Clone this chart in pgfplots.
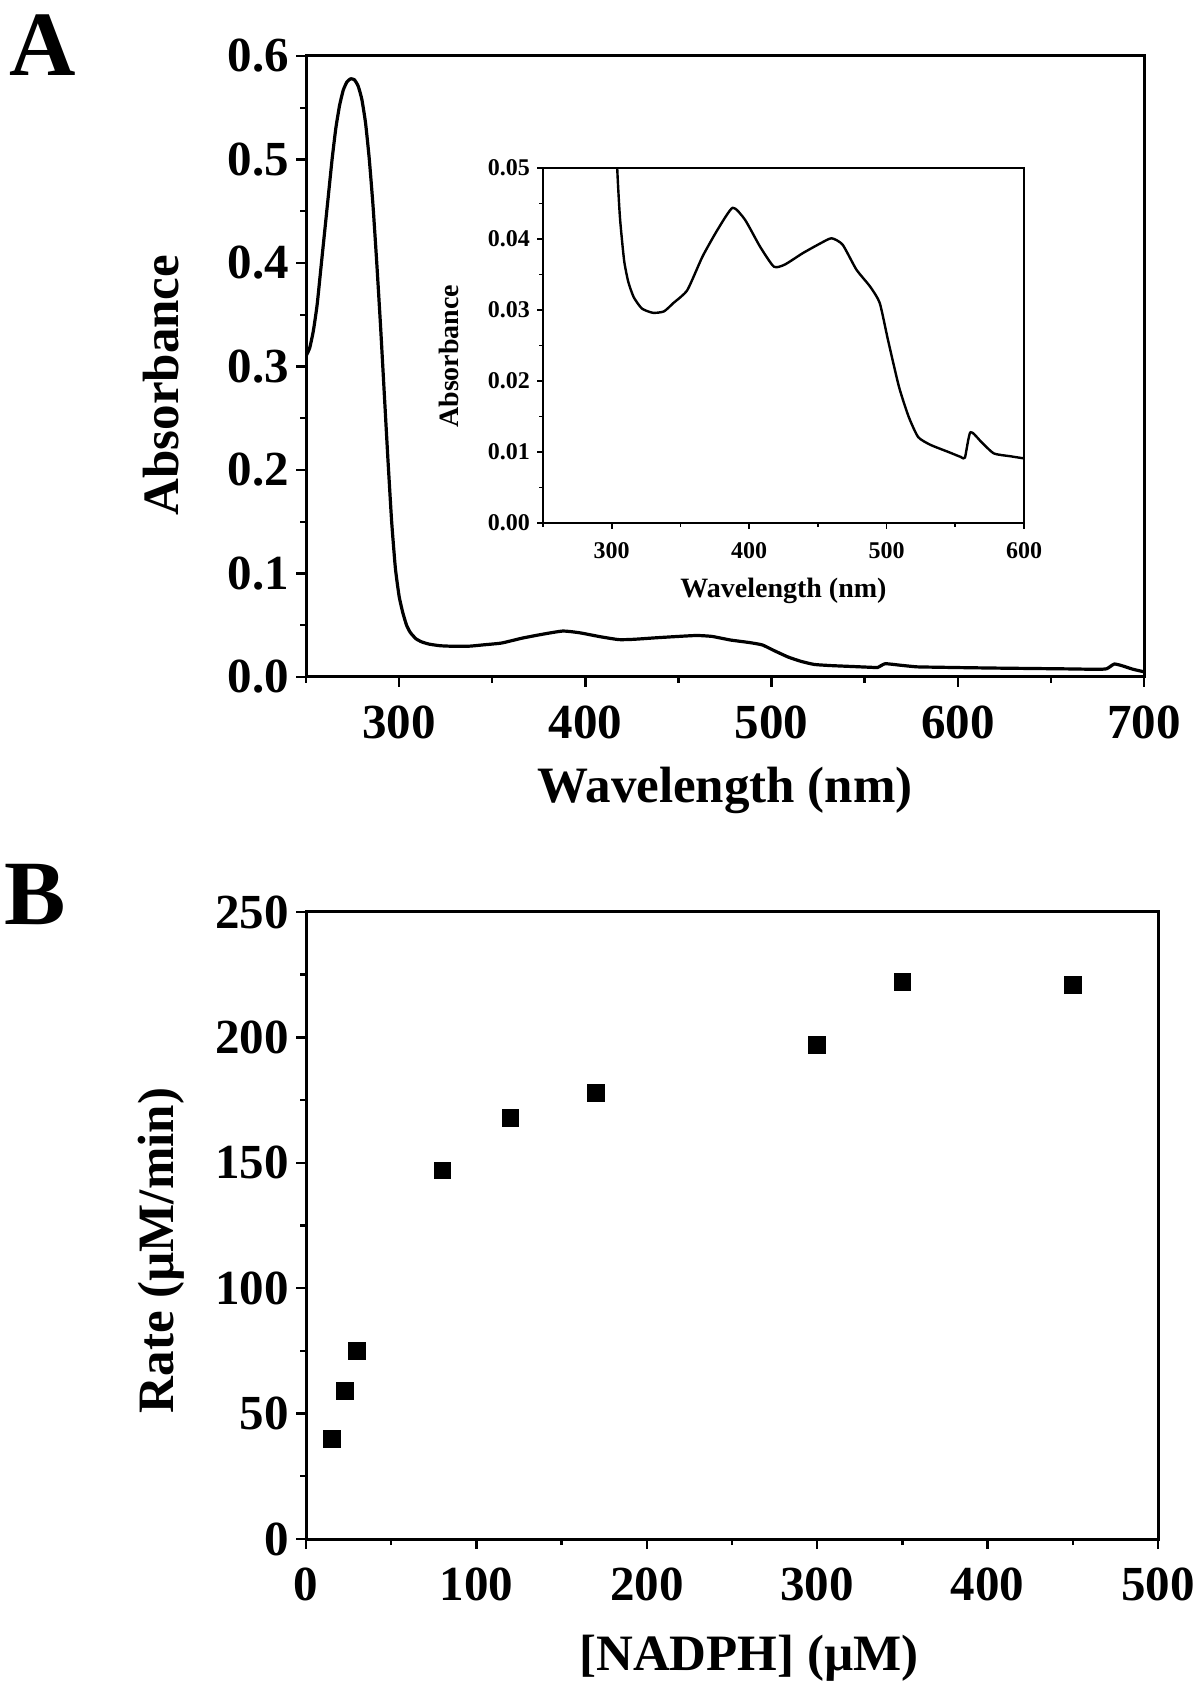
\documentclass[border=0pt]{standalone}
\usepackage{fontspec}
\setmainfont{Liberation Serif}
\usepackage{pgfplots}
\pgfplotsset{compat=1.18}
\usepackage{pgfplotstable}

\pgfplotstableread{
wl abs
250 0.310
252 0.318
254 0.335
256 0.360
258 0.395
260 0.430
262 0.465
264 0.500
266 0.530
268 0.552
270 0.567
272 0.575
274 0.578
276 0.577
278 0.571
280 0.558
282 0.535
284 0.500
286 0.455
288 0.400
290 0.340
292 0.275
294 0.210
296 0.150
298 0.105
300 0.078
302 0.062
304 0.050
306 0.043
309 0.037
312 0.0340
316 0.0318
322 0.0302
330 0.0296
338 0.0298
345 0.0310
355 0.0328
366 0.0375
377 0.0413
388 0.0444
397 0.0427
408 0.0389
418 0.0361
426 0.0364
439 0.0380
452 0.0394
460 0.0401
468 0.0392
478 0.0357
488 0.0333
495 0.0310
501 0.0258
509 0.0192
516 0.0150
523 0.0121
532 0.0110
545 0.0100
554 0.0093
557 0.0092
561 0.0128
569 0.0114
578 0.0098
590 0.0094
600 0.0091
620 0.0086
640 0.0082
660 0.0078
675 0.0074
680 0.0080
684 0.0125
688 0.0110
694 0.0075
700 0.0050
}\spectrum

\pgfplotstableread{
c rate
15 40
23 59
30 75
80 147
120 168
170 178
300 197
350 222
450 221
}\kinetics

\begin{document}
\begin{tikzpicture}
\useasboundingbox (0,0) rectangle (600pt,842.5pt);
\pgfplotsset{
  mystyle/.style={
    scale only axis,
    axis line style={line width=1.5pt},
    tick align=outside,
    tick pos=left,
    major tick length=5pt,
    minor tick length=3pt,
    every tick/.style={black, line width=1.2pt},
    /pgf/number format/assume math mode=true,
    ticklabel style={font=\fontsize{24.5}{24.5}\selectfont\bfseries},
    xticklabel style={yshift=-6pt},
    label style={font=\fontsize{25.5}{25.5}\selectfont\bfseries},
    scaled ticks=false,
  }
}
% Panel A main
\begin{axis}[mystyle,
  at={(153pt,504pt)}, anchor=south west,
  width=419pt, height=310.5pt,
  xmin=250, xmax=700, ymin=0, ymax=0.6,
  xtick={300,400,500,600,700},
  minor xtick={250,350,450,550,650},
  ytick={0,0.1,0.2,0.3,0.4,0.5,0.6},
  minor ytick={0.05,0.15,0.25,0.35,0.45,0.55},
  yticklabel style={/pgf/number format/.cd, fixed, fixed zerofill, precision=1},
  xlabel={Wavelength (nm)}, ylabel={Absorbance},
  x label style={at={(axis description cs:0.5,-0.182)}, anchor=center},
  y label style={at={(axis description cs:-0.173,0.47)}, anchor=center},
]
\addplot[black, line width=1.6pt, line join=round, smooth, tension=0.3] table[x=wl,y=abs] {\spectrum};
\end{axis}
% Inset
\begin{axis}[mystyle,
  at={(271.5pt,581pt)}, anchor=south west,
  width=240.5pt, height=177.5pt,
  axis background/.style={fill=white},
  axis line style={line width=1pt},
  every tick/.style={black, line width=0.8pt},
  major tick length=3pt, minor tick length=2pt,
  ticklabel style={font=\fontsize{12}{12}\selectfont\bfseries},
  xticklabel style={yshift=3pt},
  label style={font=\fontsize{14}{14}\selectfont\bfseries},
  xmin=250, xmax=600, ymin=0, ymax=0.05,
  xtick={300,400,500,600},
  minor xtick={250,350,450,550},
  ytick={0,0.01,0.02,0.03,0.04,0.05},
  minor ytick={0.005,0.015,0.025,0.035,0.045},
  yticklabel style={/pgf/number format/.cd, fixed, fixed zerofill, precision=2},
  xlabel={Wavelength (nm)}, ylabel={Absorbance},
  x label style={at={(axis description cs:0.5,-0.19)}, anchor=center},
  y label style={at={(axis description cs:-0.195,0.47)}, anchor=center},
]
\addplot[black, line width=1.2pt, line join=round, smooth, tension=0.35] table[x=wl,y=abs] {\spectrum};
\end{axis}
% Panel B
\begin{axis}[mystyle,
  at={(153pt,73pt)}, anchor=south west,
  width=426pt, height=313.5pt,
  xmin=0, xmax=500, ymin=0, ymax=250,
  xtick={0,100,200,300,400,500},
  minor xtick={50,150,250,350,450},
  ytick={0,50,100,150,200,250},
  minor ytick={25,75,125,175,225},
  xlabel={[NADPH] (µM)}, ylabel={Rate (µM/min)},
  x label style={at={(axis description cs:0.52,-0.19)}, anchor=center},
  y label style={at={(axis description cs:-0.17,0.46)}, anchor=center},
]
\addplot[only marks, mark=square*, mark size=4.2pt, black] table[x=c,y=rate] {\kinetics};
\end{axis}
\node[font=\fontsize{46}{46}\selectfont\bfseries] at (21.5pt,820pt) {A};
\node[font=\fontsize{46}{46}\selectfont\bfseries] at (17.5pt,395pt) {B};
\end{tikzpicture}
\end{document}
